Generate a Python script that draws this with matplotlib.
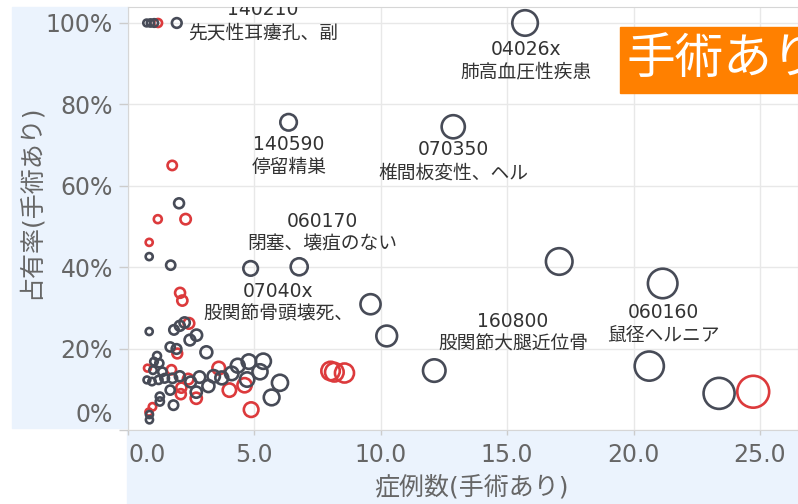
import matplotlib
matplotlib.use('Agg')
import matplotlib.pyplot as plt
from matplotlib.patches import Rectangle
from matplotlib.transforms import ScaledTranslation
import numpy as np

plt.rcParams['font.family'] = ['DejaVu Sans', 'Noto Sans CJK JP']

# 症例数 / 占有率 (dark = other hospitals, red = highlighted)
dark_cases = [0.75, 0.9, 1.05, 1.94, 15.71, 6.36, 12.87,
              2.03, 0.85, 1.70, 4.86, 6.78, 17.06, 21.15, 9.60,
              0.85, 1.83, 2.06, 2.25, 2.46, 2.72, 10.24,
              1.68, 1.93, 3.11, 1.16, 1.04, 1.25, 1.00, 1.37,
              0.76, 0.96, 1.22, 1.46, 1.77, 2.06, 2.49, 2.84, 3.40, 3.72,
              3.19, 1.68, 2.71, 1.27, 1.27, 1.81, 0.86, 0.86,
              4.11, 4.35, 4.79, 5.36, 5.23, 4.72, 6.02, 5.69,
              12.12, 20.62, 23.38]
dark_share = [100, 100, 100, 100, 100, 75.6, 74.5,
              55.7, 42.6, 40.5, 39.7, 40.1, 41.4, 36.0, 30.9,
              24.2, 24.6, 25.6, 26.4, 22.1, 23.3, 23.1,
              20.4, 19.9, 19.1, 18.2, 16.8, 16.4, 14.7, 14.3,
              12.3, 11.9, 12.3, 12.7, 12.7, 13.2, 11.8, 13.0, 13.2, 12.8,
              10.8, 9.8, 9.3, 8.2, 7.0, 6.1, 3.8, 2.5,
              13.9, 15.8, 16.8, 16.9, 14.3, 12.4, 11.6, 8.0,
              14.6, 15.7, 9.0]

red_cases = [1.2, 1.76, 1.19, 2.29, 0.85, 2.07, 2.16, 2.42,
             1.96, 0.78, 1.73, 3.60, 2.39, 2.12, 2.10,
             2.71, 0.98, 0.84, 4.02, 4.62, 4.88, 8.02, 8.17, 8.57, 24.73]
red_share = [100, 65.0, 51.8, 51.8, 46.1, 33.7, 31.8, 26.2,
             18.8, 15.2, 14.8, 15.2, 12.5, 10.4, 8.8,
             7.8, 5.7, 4.4, 9.8, 11.0, 5.0, 14.5, 14.2, 14.0, 9.4]

label_codes = ['140210', '04026x', '140590', '070350',
               '060170', '07040x', '160800', '060160']
label_names = ['先天性耳瘻孔、副', '肺高血圧性疾患', '停留精巣', '椎間板変性、ヘル',
               '閉塞、壊疽のない', '股関節骨頭壊死、', '股関節大腿近位骨', '鼠径ヘルニア']
label_x = [5.35, 15.74, 6.38, 12.86, 7.68, 5.94, 15.23, 21.18]
label_y = [100.4, 90.7, 67.3, 66.0, 48.4, 31.2, 23.8, 26.1]

x_ticks = [0, 5, 10, 15, 20, 25]
y_ticks = [0, 20, 40, 60, 80, 100]

DARK = '#474b57'
RED = '#dc3a3c'
PANEL = '#ebf3fd'
GRAY = '#666666'
W, H = 798, 504


def fx(x):
    return x / W


def fy(y):
    return 1 - y / H


def ring_size(cases):
    return np.array(cases) * 21 + 8


fig = plt.figure(figsize=(W / 100, H / 100), dpi=100)

# axis panels (behind the axes)
fig.patches.append(Rectangle((fx(12), fy(428)), fx(127) - fx(12), fy(7) - fy(428),
                             transform=fig.transFigure, color=PANEL, zorder=-2))
fig.patches.append(Rectangle((fx(127), 0), 1 - fx(127), fy(430),
                             transform=fig.transFigure, color=PANEL, zorder=-2))

ax = fig.add_axes([fx(127.7), fy(430), 1 - fx(127.7), fy(6.7) - fy(430)])
ax.set_xlim(0, 26.5)
ax.set_ylim(0, 104)

ax.scatter(red_cases, red_share, s=ring_size(red_cases), facecolors='none',
           edgecolors=RED, linewidths=1.9, zorder=3)
ax.scatter(dark_cases, dark_share, s=ring_size(dark_cases), facecolors='none',
           edgecolors=DARK, linewidths=1.9, zorder=3)

for code, name, lx, ly in zip(label_codes, label_names, label_x, label_y):
    ax.text(lx, ly, code + '\n' + name, ha='center', va='center',
            multialignment='center', fontsize=13.5, color='#333333',
            linespacing=1.25, zorder=4, clip_on=True)

ax.set_xticks(x_ticks)
ax.set_xticklabels(['%.1f' % v for v in x_ticks])
ax.set_yticks(y_ticks)
ax.set_yticklabels(['%d%%' % v for v in y_ticks])
ax.grid(True, color='#e8e8e8', linewidth=1)
ax.set_axisbelow(True)
ax.tick_params(axis='y', length=6.5, width=1, color='#cccccc', labelsize=17,
               labelcolor=GRAY, pad=4)
ax.tick_params(axis='x', length=3.6, width=1, color='#cccccc', labelsize=17,
               labelcolor=GRAY, pad=6)
for side in ['left', 'bottom', 'top', 'right']:
    ax.spines[side].set_color('#d6d6d6')

# Tableau style: first labels pulled inside the axis
first_x = ax.xaxis.get_major_ticks()[0].label1
first_x.set_transform(first_x.get_transform() + ScaledTranslation(0.19, 0, fig.dpi_scale_trans))
first_y = ax.yaxis.get_major_ticks()[0].label1
first_y.set_transform(first_y.get_transform() + ScaledTranslation(0, 0.17, fig.dpi_scale_trans))

fig.text(fx(471), fy(487), '症例数(手術あり)', ha='center', va='center',
         fontsize=18, color=GRAY)
fig.text(fx(30), fy(202), '占有率(手術あり)', ha='center', va='center',
         rotation=90, fontsize=18, color=GRAY)

# orange badge
fig.patches.append(Rectangle((fx(620), fy(93)), 1 - fx(620), fy(27) - fy(93),
                             transform=fig.transFigure, color='#ff8000', zorder=5))
fig.text(fx(627), fy(59), '手術あり', ha='left', va='center', fontsize=35,
         color='white', zorder=6)

fig.savefig('out.png', dpi=100)
